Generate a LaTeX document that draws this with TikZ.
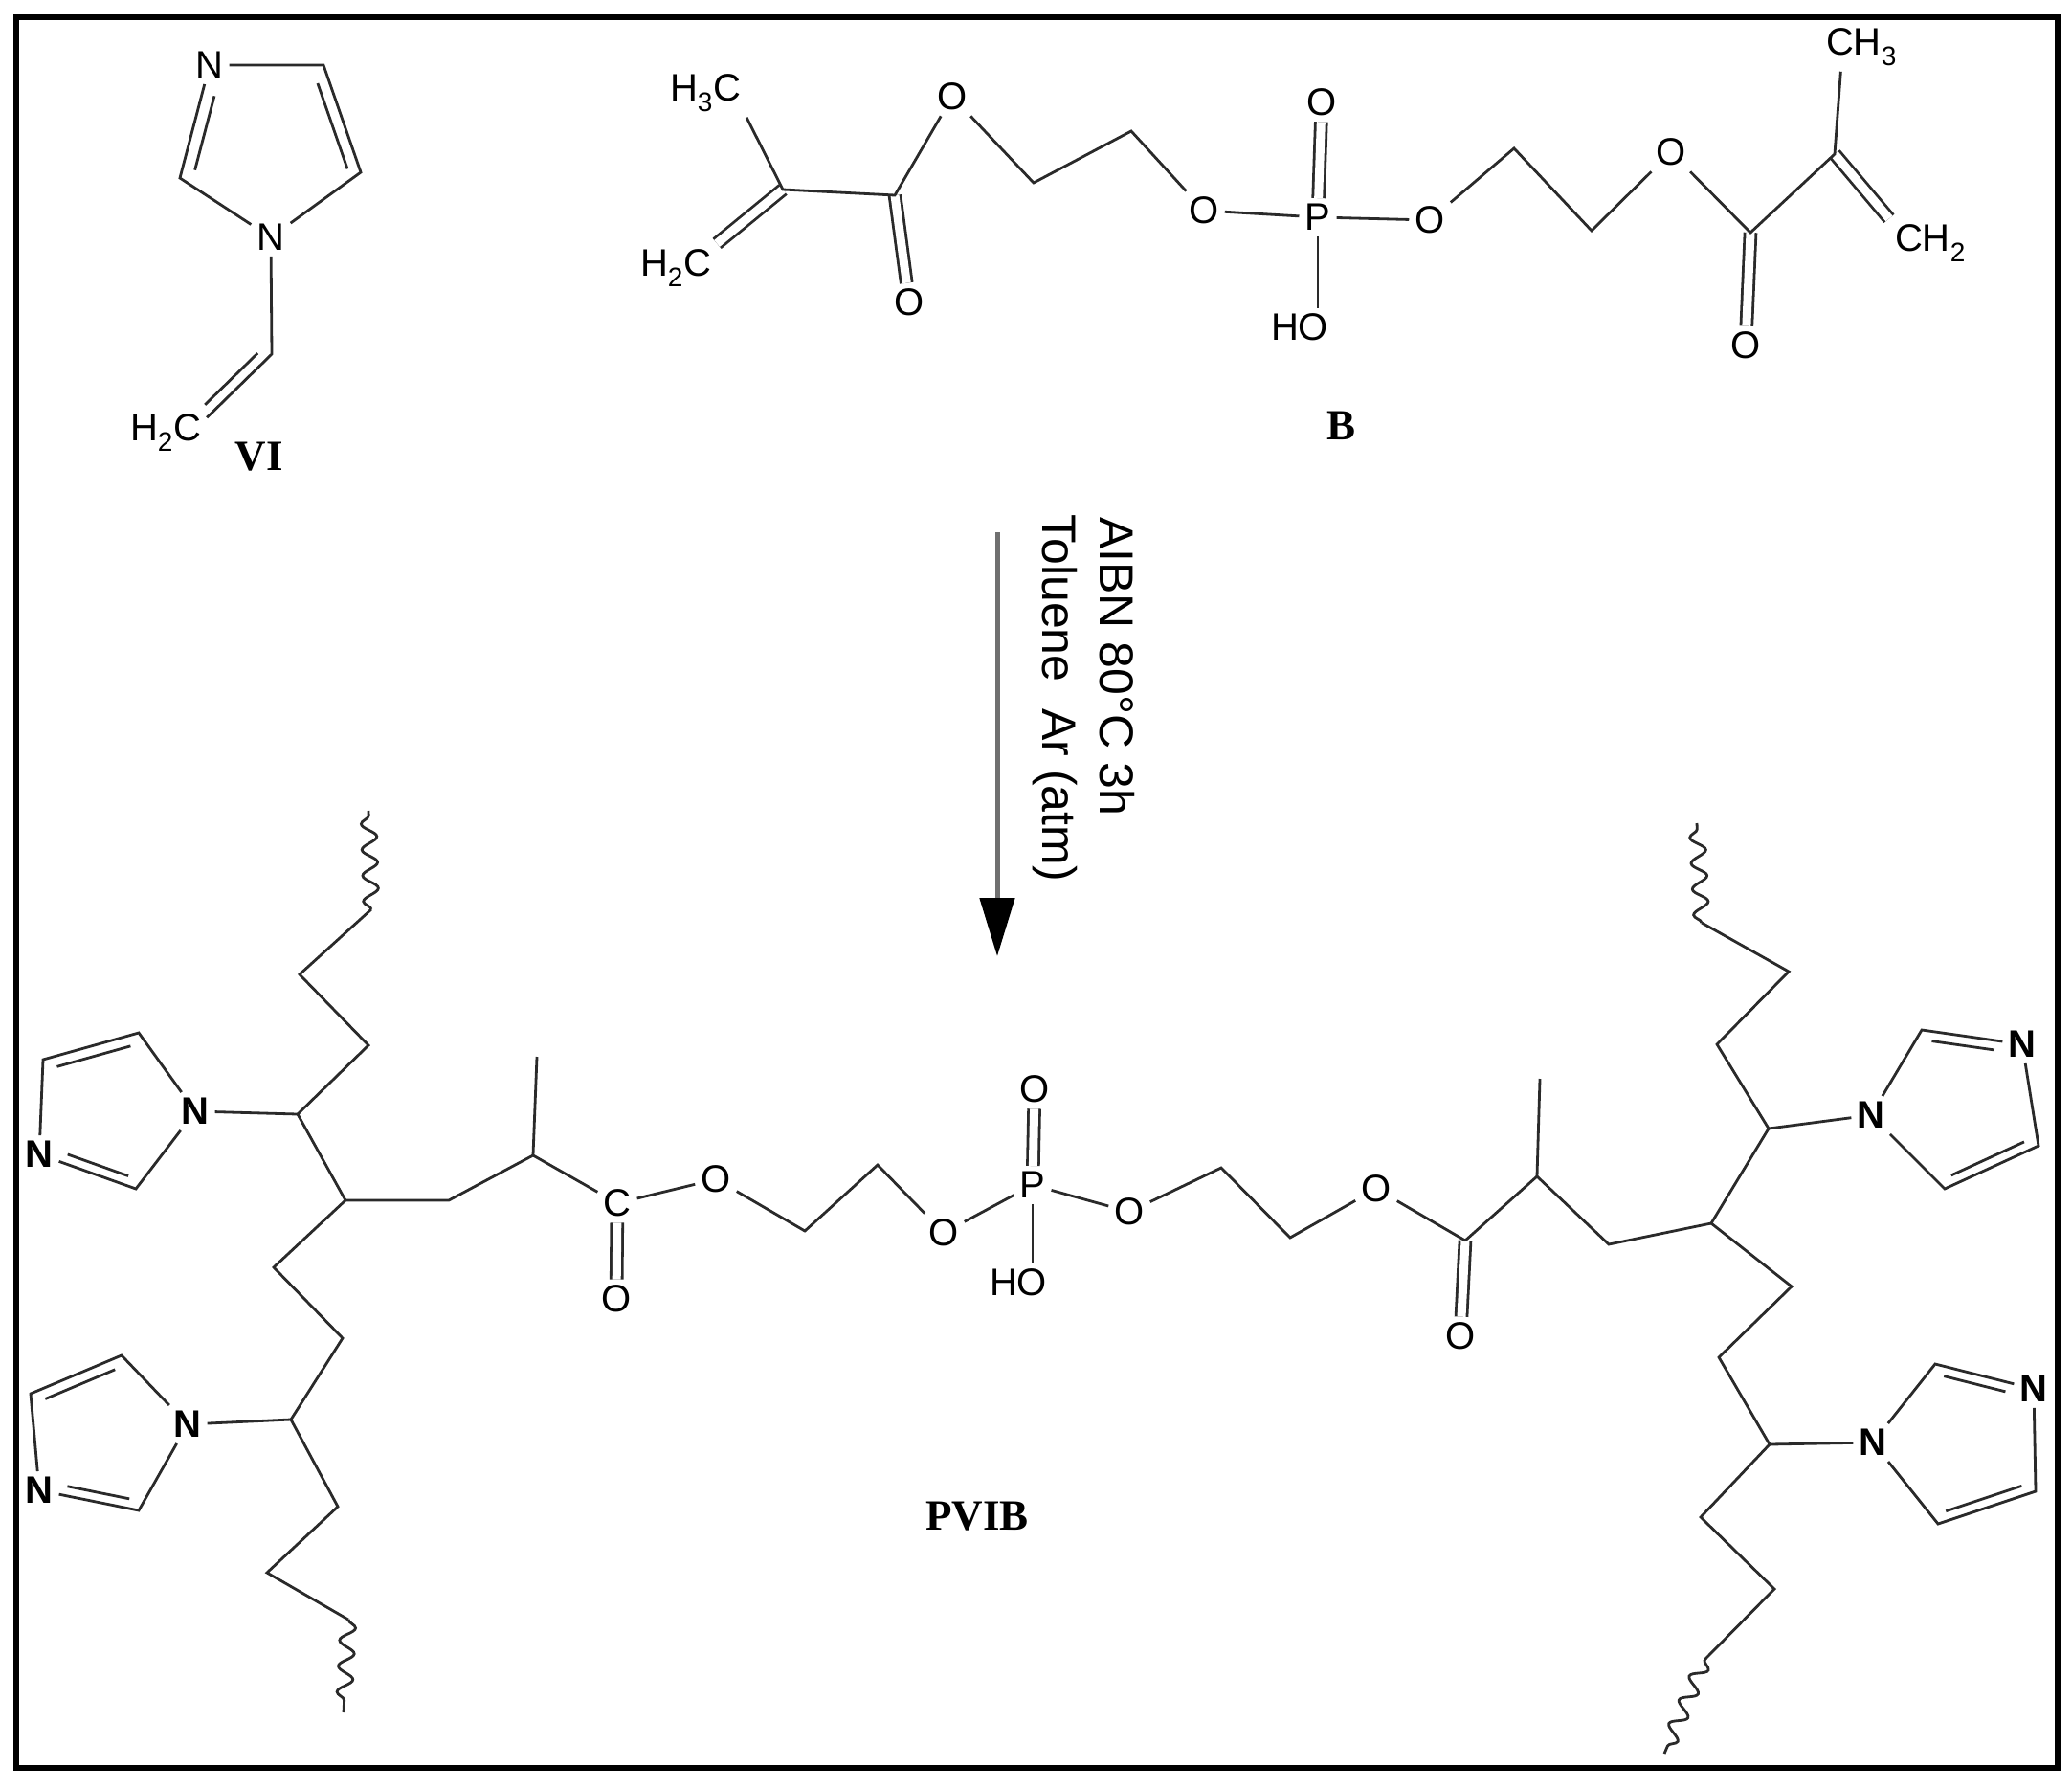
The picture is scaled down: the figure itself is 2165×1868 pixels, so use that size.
\documentclass[tikz,border=0pt]{standalone}
\usepackage{fontspec}
\setmainfont{Liberation Sans}
\newfontfamily\namefont{Liberation Serif}
\usetikzlibrary{arrows.meta,calc,decorations.pathmorphing}
\definecolor{bondgray}{HTML}{2A2A2A}
\definecolor{arrowgray}{HTML}{707070}
\tikzset{
  bond/.style={line width=2.8pt, color=bondgray},
  dbond/.style={bond, double, double distance=9pt},
  wavy/.style={bond, decorate, decoration={snake, amplitude=8pt, segment length=27pt}},
  atom/.style={font=\fontsize{40}{44}\selectfont, inner sep=6pt},
  ringN/.style={font=\fontsize{40}{44}\selectfont\bfseries, inner sep=6pt},
  molname/.style={font=\fontsize{45}{50}\selectfont\namefont\bfseries, inner sep=0pt},
  cond/.style={font=\fontsize{50}{56}\selectfont, rotate=-90, inner sep=0pt},
  rxnarrow/.style={line width=5pt, color=arrowgray, -{Triangle[length=61pt, width=36pt, color=black]}}
}
% second, shorter stroke of a double bond
\newcommand{\innerbond}[4][]{\draw[bond, shorten <=12pt, shorten >=12pt, #1] ($(#2)!#4!90:(#3)$) -- ($(#3)!#4!-90:(#2)$);}
\begin{document}
\begin{tikzpicture}[x=1pt, y=-1pt]
    \useasboundingbox (0,0) rectangle (2165,1868);
    \draw [line width=6pt] (17,18) rectangle (2150,1847);

    % vinylimidazole
    \node [atom] (vN1) at (219,68) {N};
    \node [atom] (vN2) at (283,248) {N};
    \node [atom] (vCH) at (173,452) {H\textsubscript{2}C};
    \node [molname] (vName) at (271,477) {VI};
    \coordinate (vC1) at (338,68);
    \coordinate (vC2) at (377,180);
    \coordinate (vC3) at (188,186);
    \coordinate (vC4) at (284,370);
    \draw [bond] (vN1) -- (vC1) -- (vC2) -- (vN2) -- (vC3) -- (vN1);
    \innerbond[shorten <=16pt, shorten >=8pt]{vC1}{vC2}{-12pt}
    \innerbond[shorten <=30pt, shorten >=12pt]{vN1}{vC3}{13pt}
    \draw [bond] (vN2) -- (vC4) -- (vCH.20);
    \innerbond[shorten <=10pt, shorten >=8pt]{vC4}{vCH.20}{-11pt}

    % crosslinker
    \node [atom] (bH3C) at (737,97) {H\textsubscript{3}C};
    \node [atom] (bH2C) at (706,280) {H\textsubscript{2}C};
    \node [atom] (bO1) at (950,316) {O};
    \node [atom] (bO2) at (995,101) {O};
    \node [atom] (bO3) at (1258,220) {O};
    \node [atom] (bP) at (1377,227) {P};
    \node [atom] (bO4) at (1381,107) {O};
    \node [atom] (bHO) at (1358,342) {HO};
    \node [atom] (bO5) at (1494,230) {O};
    \node [atom] (bO6) at (1746,159) {O};
    \node [atom] (bO7) at (1824,361) {O};
    \node [atom] (bCH3) at (1945,49) {CH\textsubscript{3}};
    \node [atom] (bCH2) at (2017,254) {CH\textsubscript{2}};
    \node [molname] (bName) at (1401,445) {B};
    \coordinate (bC1) at (818,198);
    \coordinate (bC2) at (935,204);
    \coordinate (bC3) at (1080,191);
    \coordinate (bC4) at (1182,137);
    \coordinate (bC5) at (1582,155);
    \coordinate (bC6) at (1663,241);
    \coordinate (bC7) at (1829,243);
    \coordinate (bC8) at (1917,161);
    \draw [dbond] (bC1) -- (bH2C.north east);
    \draw [dbond] (bC2) -- (bO1);
    \draw [dbond] (bP) -- (bO4);
    \draw [dbond] (bC7) -- (bO7);
    \draw [dbond] (bC8) -- (bCH2.north west);
    \draw [bond] (bH3C.south east) -- (bC1) -- (bC2) -- (bO2) -- (bC3) -- (bC4) -- (bO3) -- (bP) -- (bO5) -- (bC5) -- (bC6) -- (bO6) -- (bC7) -- (bC8) -- (bCH3.-130);
    \draw [bond] (bP) -- (bHO.north -| bP);

    % reaction arrow
    \coordinate (arrTop) at (1042,556);
    \coordinate (arrTip) at (1042,999);
    \draw [rxnarrow] (arrTop) -- (arrTip);
    \node [cond] (condA) at (1167,696) {AIBN 80°C 3h};
    \node [cond] (condB) at (1102,729) {Toluene\ \ Ar (atm)};

    % polymer, central part
    \node [atom] (pC) at (645,1257) {C};
    \node [atom] (pO1) at (644,1357) {O};
    \node [atom] (pO2) at (748,1232) {O};
    \node [atom] (pO3) at (986,1288) {O};
    \node [atom] (pP) at (1079,1238) {P};
    \node [atom] (pO4) at (1081,1138) {O};
    \node [atom] (pHO) at (1064,1340) {HO};
    \node [atom] (pO5) at (1180,1266) {O};
    \node [atom] (pO6) at (1438,1242) {O};
    \node [atom] (pO7) at (1526,1396) {O};
    \node [molname] (pName) at (1021,1584) {PVIB};
    \coordinate (pC1) at (841,1286);
    \coordinate (pC2) at (917,1217);
    \coordinate (pC3) at (1276,1220);
    \coordinate (pC4) at (1348,1293);
    \coordinate (pC5) at (1531,1296);
    \draw [dbond] (pC) -- (pO1);
    \draw [dbond] (pP) -- (pO4);
    \draw [dbond] (pC5) -- (pO7);
    \draw [bond] (pC) -- (pO2) -- (pC1) -- (pC2) -- (pO3) -- (pP) -- (pO5) -- (pC3) -- (pC4) -- (pO6) -- (pC5);
    \draw [bond] (pP) -- (pHO.north -| pP);

    % polymer, left arm
    \node [ringN] (lN1) at (204,1161) {N};
    \node [ringN] (lN2) at (41,1206) {N};
    \node [ringN] (lN3) at (196,1488) {N};
    \node [ringN] (lN4) at (41,1557) {N};
    \coordinate (lC1) at (557,1207);
    \coordinate (lMe) at (561,1104);
    \coordinate (lC2) at (469,1254);
    \coordinate (lC3) at (361,1254);
    \coordinate (lC4) at (311,1164);
    \coordinate (lC5) at (385,1092);
    \coordinate (lC6) at (313,1018);
    \coordinate (lC7) at (388,950);
    \coordinate (lEnd1) at (385,847);
    \coordinate (lC8) at (286,1324);
    \coordinate (lC9) at (358,1398);
    \coordinate (lC10) at (304,1483);
    \coordinate (lC11) at (353,1574);
    \coordinate (lC12) at (279,1643);
    \coordinate (lC13) at (364,1692);
    \coordinate (lEnd2) at (359,1789);
    \coordinate (lA1) at (145,1079);
    \coordinate (lA2) at (45,1107);
    \coordinate (lA3) at (142,1242);
    \coordinate (lB1) at (127,1416);
    \coordinate (lB2) at (32,1456);
    \coordinate (lB3) at (145,1578);
    \draw [bond] (pC) -- (lC1) -- (lC2) -- (lC3) -- (lC4) -- (lC5) -- (lC6) -- (lC7);
    \draw [bond] (lC1) -- (lMe);
    \draw [bond] (lC3) -- (lC8) -- (lC9) -- (lC10) -- (lC11) -- (lC12) -- (lC13);
    \draw [bond] (lC4) -- (lN1);
    \draw [bond] (lC10) -- (lN3);
    \draw [wavy] (lC7) -- (lEnd1);
    \draw [wavy] (lC13) -- (lEnd2);
    \draw [bond] (lN1) -- (lA1) -- (lA2) -- (lN2) -- (lA3) -- (lN1);
    \innerbond{lA1}{lA2}{11pt}
    \innerbond[shorten <=28pt]{lN2}{lA3}{10pt}
    \draw [bond] (lN3) -- (lB1) -- (lB2) -- (lN4) -- (lB3) -- (lN3);
    \innerbond{lB1}{lB2}{11pt}
    \innerbond[shorten <=28pt]{lN4}{lB3}{10pt}

    % polymer, right arm
    \node [ringN] (rN1) at (1955,1165) {N};
    \node [ringN] (rN2) at (2113,1091) {N};
    \node [ringN] (rN3) at (1957,1507) {N};
    \node [ringN] (rN4) at (2125,1451) {N};
    \coordinate (rC1) at (1606,1229);
    \coordinate (rMe) at (1609,1127);
    \coordinate (rC2) at (1681,1300);
    \coordinate (rC3) at (1788,1278);
    \coordinate (rC4) at (1848,1179);
    \coordinate (rC5) at (1794,1091);
    \coordinate (rC6) at (1869,1015);
    \coordinate (rC7) at (1778,964);
    \coordinate (rEnd1) at (1773,860);
    \coordinate (rC8) at (1872,1344);
    \coordinate (rC9) at (1796,1418);
    \coordinate (rC10) at (1849,1509);
    \coordinate (rC11) at (1777,1585);
    \coordinate (rC12) at (1854,1660);
    \coordinate (rC13) at (1781,1734);
    \coordinate (rEnd2) at (1739,1832);
    \coordinate (rA1) at (2008,1076);
    \coordinate (rA2) at (2130,1197);
    \coordinate (rA3) at (2032,1242);
    \coordinate (rB1) at (2022,1425);
    \coordinate (rB2) at (2127,1558);
    \coordinate (rB3) at (2025,1592);
    \draw [bond] (pC5) -- (rC1) -- (rC2) -- (rC3) -- (rC4) -- (rC5) -- (rC6) -- (rC7);
    \draw [bond] (rC1) -- (rMe);
    \draw [bond] (rC3) -- (rC8) -- (rC9) -- (rC10) -- (rC11) -- (rC12) -- (rC13);
    \draw [bond] (rC4) -- (rN1);
    \draw [bond] (rC10) -- (rN3);
    \draw [wavy] (rC7) -- (rEnd1);
    \draw [wavy] (rC13) -- (rEnd2);
    \draw [bond] (rN1) -- (rA1) -- (rN2) -- (rA2) -- (rA3) -- (rN1);
    \innerbond[shorten >=28pt]{rA1}{rN2}{-10pt}
    \innerbond{rA2}{rA3}{-10pt}
    \draw [bond] (rN3) -- (rB1) -- (rN4) -- (rB2) -- (rB3) -- (rN3);
    \innerbond[shorten >=28pt]{rB1}{rN4}{-10pt}
    \innerbond{rB2}{rB3}{-10pt}
\end{tikzpicture}
\end{document}
